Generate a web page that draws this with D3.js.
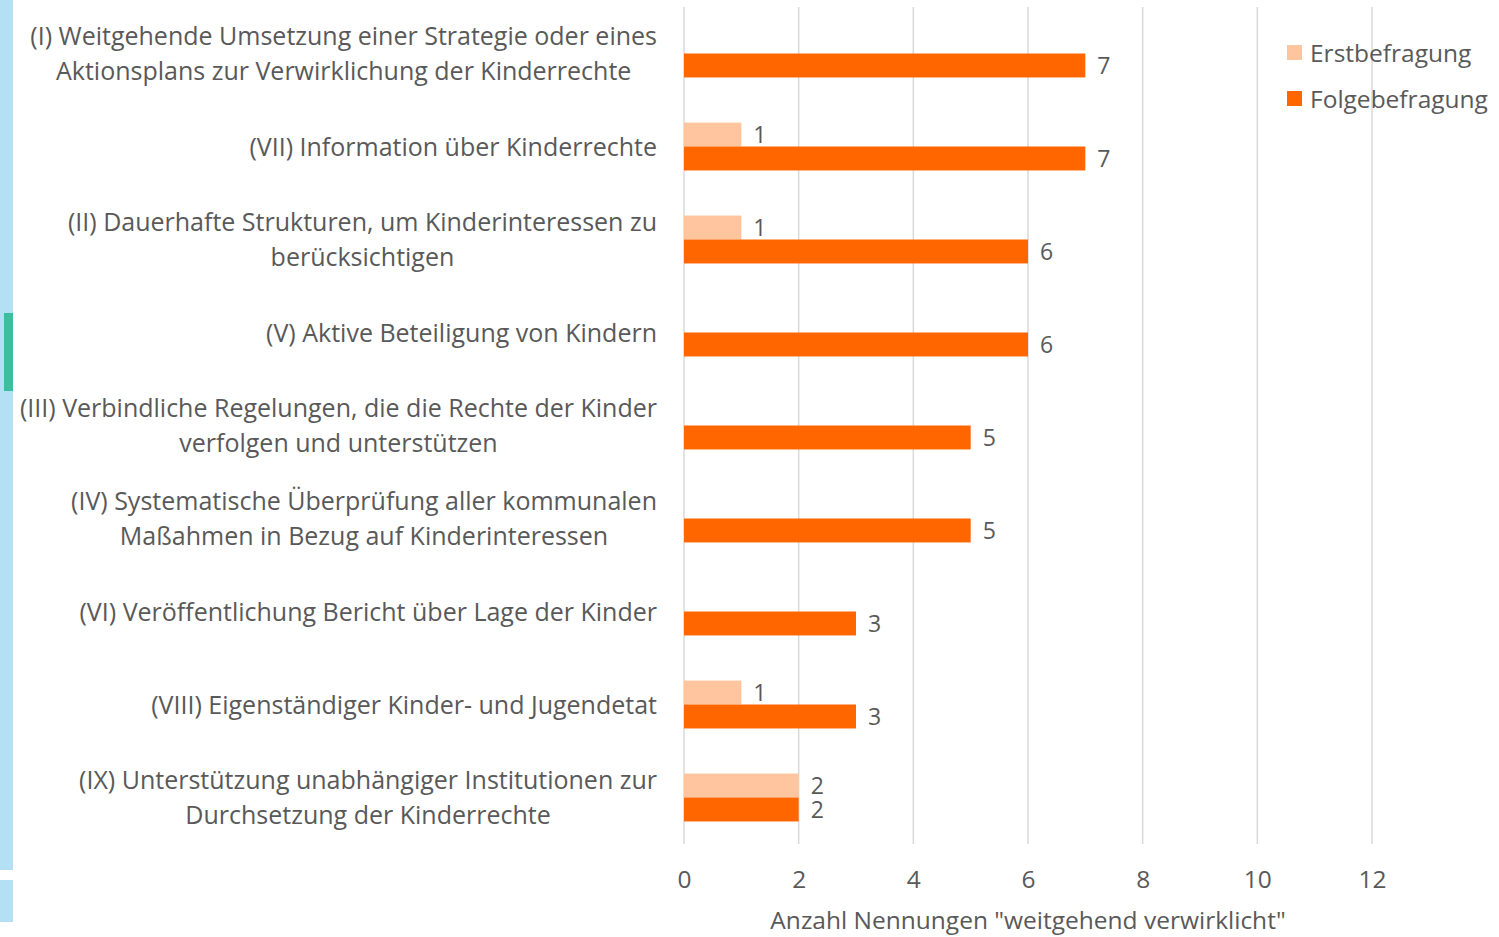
<!DOCTYPE html>
<html>
<head>
<meta charset="utf-8">
<script src="https://cdn.jsdelivr.net/npm/d3@7"></script>
<style>
  body { margin: 0; background: #fff; }
  text { font-family: "Open Sans", "Noto Sans", sans-serif; fill: #595959; }
</style>
</head>
<body>
<svg id="chart" width="1499" height="937"></svg>
<script>
const SVG_WIDTH = 1499;
const SVG_HEIGHT = 937;
const PLOT = { left: 684, right: 1372, top: 7, bottom: 844 };

// one entry per category, label lines as shown in the picture
const categories = [
  ["(I) Weitgehende Umsetzung einer Strategie oder eines", "Aktionsplans zur Verwirklichung der Kinderrechte"],
  ["(VII) Information über Kinderrechte"],
  ["(II) Dauerhafte Strukturen, um Kinderinteressen zu", "berücksichtigen"],
  ["(V) Aktive Beteiligung von Kindern"],
  ["(III) Verbindliche Regelungen, die die Rechte der Kinder", "verfolgen und unterstützen"],
  ["(IV) Systematische Überprüfung aller kommunalen", "Maßahmen in Bezug auf Kinderinteressen"],
  ["(VI) Veröffentlichung Bericht über Lage der Kinder"],
  ["(VIII) Eigenständiger Kinder- und Jugendetat"],
  ["(IX) Unterstützung unabhängiger Institutionen zur", "Durchsetzung der Kinderrechte"]
];
const erstValues = [0, 1, 1, 0, 0, 0, 0, 1, 2];
const folgeValues = [7, 7, 6, 6, 5, 5, 3, 3, 2];
const seriesNames = ["Erstbefragung", "Folgebefragung"];
const seriesColors = ["#FFC59E", "#FF6600"];
const xTicks = [0, 2, 4, 6, 8, 10, 12];
const xTitle = 'Anzahl Nennungen "weitgehend verwirklicht"';

const FONT = "24.5px";
const svg = d3.select("#chart");

// left edge decoration (cut-off graphic in the source)
svg.append("rect").attr("x", 0).attr("y", 0).attr("width", 13).attr("height", 870).attr("fill", "#B3E0F5");
svg.append("rect").attr("x", 0).attr("y", 880).attr("width", 13).attr("height", 42).attr("fill", "#B3E0F5");
svg.append("rect").attr("x", 4).attr("y", 313).attr("width", 9).attr("height", 78).attr("fill", "#3DBE9F");

const x_scale = d3.scaleLinear().domain([0, 12]).range([PLOT.left, PLOT.right]);
const idx = d3.range(categories.length);
const y_band = d3.scaleBand().domain(idx).range([PLOT.top, PLOT.bottom]).paddingInner(0.485).paddingOuter(0.2425);
const y_sub = d3.scaleBand().domain([0, 1]).range([0, y_band.bandwidth()]);

// gridlines
svg.append("g")
  .selectAll("line")
  .data(xTicks)
  .join("line")
  .attr("x1", (d) => x_scale(d))
  .attr("x2", (d) => x_scale(d))
  .attr("y1", PLOT.top)
  .attr("y2", PLOT.bottom)
  .attr("stroke", "#d9d9d9")
  .attr("stroke-width", 1.5);

// x axis labels
const x_axis = svg.append("g")
  .attr("transform", `translate(0, ${PLOT.bottom})`)
  .call(d3.axisBottom(x_scale).tickValues(xTicks).tickSize(0).tickPadding(27));
x_axis.select(".domain").remove();
x_axis.selectAll("text").style("font-size", FONT).attr("fill", "#595959");

svg.append("text")
  .attr("x", (PLOT.left + PLOT.right) / 2)
  .attr("y", 929)
  .attr("text-anchor", "middle")
  .style("font-size", FONT)
  .text(xTitle);

// bars
const series = [erstValues, folgeValues];
series.forEach((values, s) => {
  const rows = values.map((v, i) => ({ v, i })).filter((d) => d.v > 0);
  const g = svg.append("g");
  g.selectAll("rect")
    .data(rows)
    .join("rect")
    .attr("x", x_scale(0))
    .attr("y", (d) => y_band(d.i) + y_sub(s))
    .attr("width", (d) => x_scale(d.v) - x_scale(0))
    .attr("height", y_sub.bandwidth())
    .attr("fill", seriesColors[s]);
  g.selectAll("text")
    .data(rows)
    .join("text")
    .attr("x", (d) => x_scale(d.v) + 12)
    .attr("y", (d) => y_band(d.i) + y_sub(s) + y_sub.bandwidth() / 2)
    .attr("dy", "0.36em")
    .style("font-size", "23px")
    .attr("fill", "#404040")
    .text((d) => d.v);
});

// category labels: block right-aligned, lines centred within block
const LABEL_RIGHT = 657;
const LINE_H = 35;
categories.forEach((lines, i) => {
  const cy = y_band(i) + y_band.bandwidth() / 2;
  const g = svg.append("g");
  const texts = g.selectAll("text")
    .data(lines)
    .join("text")
    .attr("text-anchor", "middle")
    .attr("y", (d, j) => cy + (j - (lines.length - 1) / 2) * LINE_H)
    .attr("dy", "0.36em")
    .style("font-size", "25px")
    .text((d) => d);
  let maxW = 0;
  texts.each(function () { maxW = Math.max(maxW, this.getComputedTextLength()); });
  texts.attr("x", LABEL_RIGHT - maxW / 2);
});

// legend
const legend = svg.append("g").attr("transform", "translate(1287, 53)");
seriesNames.forEach((name, s) => {
  legend.append("rect")
    .attr("x", 0).attr("y", s * 46 - 8)
    .attr("width", 15).attr("height", 15)
    .attr("fill", seriesColors[s]);
  legend.append("text")
    .attr("x", 23).attr("y", s * 46)
    .attr("dy", "0.36em")
    .style("font-size", FONT)
    .text(name);
});
</script>
</body>
</html>
